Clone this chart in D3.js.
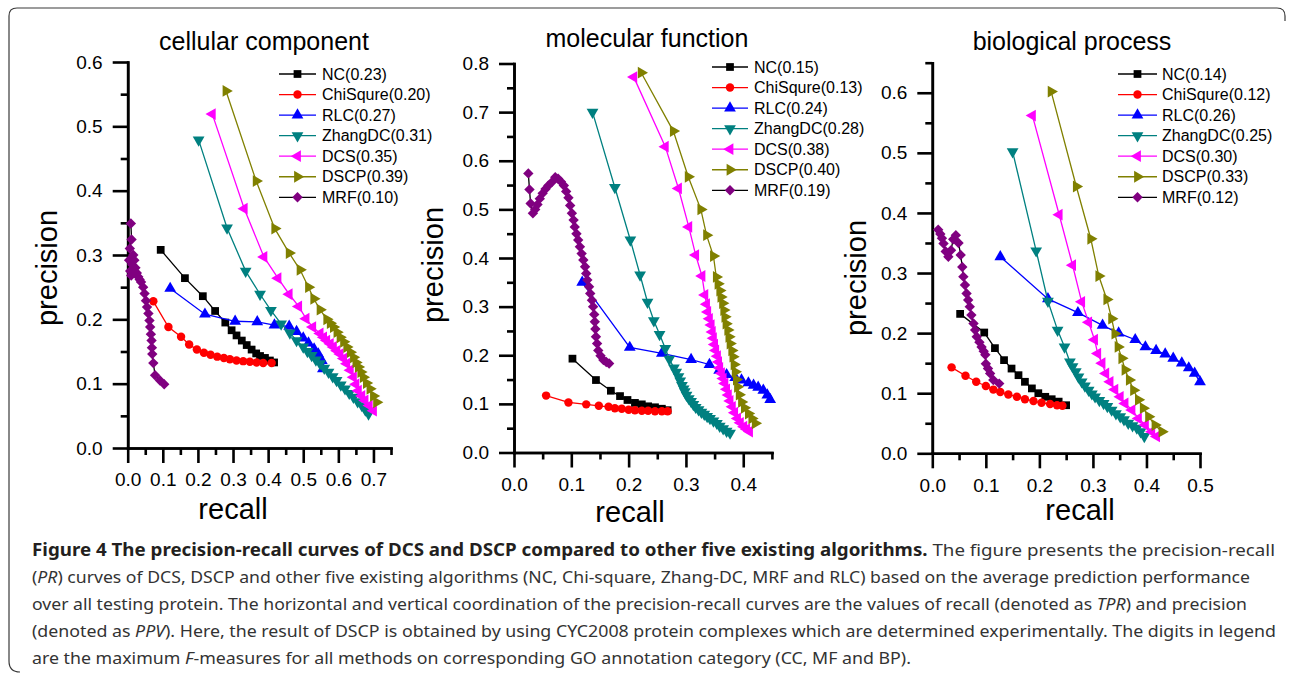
<!DOCTYPE html>
<html>
<head>
<meta charset="utf-8">
<script src="https://cdn.jsdelivr.net/npm/d3@7"></script>
<style>
body { margin: 0; background: #fff; }
</style>
</head>
<body>
<svg id="fig" width="1290" height="679"></svg>
<script>
// ---- data: [recall, precision] ----
const methods = ["NC", "ChiSqure", "RLC", "ZhangDC", "DCS", "DSCP", "MRF"];
const ccFmax = ["0.23", "0.20", "0.27", "0.31", "0.35", "0.39", "0.10"];
const mfFmax = ["0.15", "0.13", "0.24", "0.28", "0.38", "0.40", "0.19"];
const bpFmax = ["0.14", "0.12", "0.26", "0.25", "0.30", "0.33", "0.12"];

// cellular component
const ccNC = [[0.094,0.308],[0.163,0.264],[0.214,0.236],[0.249,0.213],[0.278,0.195],[0.296,0.183],[0.310,0.175],[0.325,0.167],[0.339,0.160],[0.353,0.153],[0.366,0.147],[0.377,0.143],[0.391,0.140],[0.405,0.136],[0.417,0.133]];
const ccChi = [[0.073,0.228],[0.116,0.188],[0.152,0.173],[0.175,0.161],[0.197,0.153],[0.217,0.148],[0.236,0.145],[0.255,0.142],[0.274,0.140],[0.291,0.138],[0.310,0.136],[0.329,0.135],[0.348,0.134],[0.367,0.133],[0.386,0.132],[0.410,0.132]];
const ccRLC = [[0.121,0.248],[0.220,0.208],[0.306,0.197],[0.369,0.196],[0.418,0.191],[0.460,0.189],[0.481,0.181],[0.500,0.171],[0.515,0.163],[0.531,0.154],[0.543,0.146],[0.553,0.136],[0.556,0.123]];
const ccZhang = [[0.202,0.479],[0.283,0.342],[0.336,0.275],[0.377,0.239],[0.408,0.214],[0.437,0.193],[0.462,0.179],[0.481,0.167],[0.500,0.157],[0.512,0.150],[0.524,0.144],[0.536,0.137],[0.548,0.131],[0.560,0.124],[0.572,0.118],[0.584,0.111],[0.595,0.105],[0.607,0.098],[0.619,0.092],[0.631,0.085],[0.643,0.079],[0.655,0.072],[0.667,0.066],[0.677,0.059],[0.686,0.053]];
const ccDCS = [[0.241,0.519],[0.332,0.372],[0.388,0.297],[0.428,0.264],[0.460,0.239],[0.487,0.220],[0.508,0.201],[0.527,0.188],[0.548,0.178],[0.558,0.172],[0.567,0.167],[0.577,0.162],[0.586,0.157],[0.596,0.151],[0.605,0.146],[0.615,0.139],[0.624,0.131],[0.634,0.121],[0.643,0.110],[0.650,0.099],[0.657,0.089],[0.667,0.081],[0.676,0.074],[0.688,0.066],[0.700,0.058]];
const ccDSCP = [[0.280,0.555],[0.366,0.415],[0.419,0.341],[0.460,0.303],[0.491,0.277],[0.515,0.250],[0.530,0.232],[0.548,0.215],[0.567,0.200],[0.577,0.194],[0.586,0.188],[0.596,0.180],[0.605,0.172],[0.615,0.165],[0.624,0.157],[0.634,0.149],[0.643,0.141],[0.650,0.133],[0.657,0.126],[0.664,0.118],[0.671,0.110],[0.680,0.101],[0.690,0.092],[0.700,0.081],[0.709,0.071]];
const ccMRF = [[0.009,0.349],[0.011,0.324],[0.006,0.310],[0.004,0.292],[0.007,0.275],[0.010,0.268],[0.013,0.285],[0.016,0.300],[0.019,0.292],[0.022,0.280],[0.026,0.272],[0.030,0.266],[0.034,0.262],[0.038,0.258],[0.044,0.250],[0.048,0.240],[0.052,0.229],[0.055,0.219],[0.059,0.209],[0.062,0.198],[0.064,0.188],[0.066,0.177],[0.068,0.167],[0.069,0.156],[0.070,0.146],[0.073,0.132],[0.078,0.113],[0.092,0.105],[0.104,0.099]];

// molecular function
const mfNC = [[0.102,0.193],[0.143,0.149],[0.169,0.127],[0.185,0.116],[0.198,0.108],[0.211,0.102],[0.223,0.099],[0.234,0.095],[0.246,0.093],[0.258,0.090],[0.268,0.087]];
const mfChi = [[0.056,0.117],[0.095,0.103],[0.126,0.099],[0.148,0.096],[0.165,0.094],[0.176,0.091],[0.188,0.090],[0.200,0.088],[0.211,0.087],[0.223,0.086],[0.234,0.086],[0.246,0.085],[0.258,0.085],[0.268,0.085]];
const mfRLC = [[0.119,0.350],[0.202,0.216],[0.258,0.204],[0.309,0.191],[0.341,0.181],[0.358,0.169],[0.371,0.160],[0.386,0.154],[0.397,0.149],[0.409,0.143],[0.418,0.138],[0.426,0.134],[0.435,0.128],[0.442,0.118],[0.447,0.109]];
const mfZhang = [[0.137,0.700],[0.176,0.545],[0.203,0.437],[0.220,0.365],[0.233,0.309],[0.244,0.271],[0.254,0.243],[0.264,0.214],[0.271,0.192],[0.279,0.174],[0.283,0.165],[0.287,0.156],[0.290,0.147],[0.293,0.138],[0.296,0.131],[0.298,0.125],[0.301,0.118],[0.305,0.111],[0.309,0.105],[0.313,0.099],[0.317,0.093],[0.322,0.088],[0.327,0.083],[0.332,0.079],[0.337,0.074],[0.342,0.070],[0.348,0.065],[0.354,0.060],[0.359,0.054],[0.365,0.049],[0.371,0.044],[0.377,0.040]];
const mfDCS = [[0.209,0.772],[0.264,0.629],[0.287,0.543],[0.305,0.464],[0.317,0.406],[0.328,0.363],[0.333,0.324],[0.336,0.305],[0.338,0.289],[0.341,0.275],[0.344,0.262],[0.346,0.248],[0.348,0.235],[0.350,0.222],[0.352,0.210],[0.355,0.198],[0.357,0.186],[0.359,0.174],[0.362,0.163],[0.365,0.152],[0.368,0.142],[0.371,0.130],[0.374,0.118],[0.377,0.106],[0.381,0.094],[0.385,0.082],[0.390,0.070],[0.395,0.061],[0.401,0.053],[0.406,0.048],[0.411,0.043]];
const mfDSCP = [[0.222,0.781],[0.278,0.661],[0.304,0.567],[0.326,0.500],[0.336,0.447],[0.348,0.404],[0.353,0.361],[0.356,0.347],[0.359,0.333],[0.361,0.320],[0.364,0.307],[0.366,0.293],[0.368,0.279],[0.370,0.265],[0.373,0.252],[0.375,0.238],[0.377,0.224],[0.380,0.210],[0.382,0.197],[0.384,0.181],[0.386,0.166],[0.388,0.150],[0.390,0.135],[0.393,0.119],[0.397,0.104],[0.402,0.092],[0.409,0.080],[0.415,0.070],[0.421,0.060]];
const mfMRF = [[0.025,0.574],[0.027,0.541],[0.029,0.512],[0.033,0.492],[0.037,0.500],[0.041,0.510],[0.045,0.522],[0.050,0.533],[0.055,0.542],[0.060,0.549],[0.066,0.556],[0.072,0.566],[0.077,0.563],[0.082,0.557],[0.087,0.549],[0.091,0.537],[0.095,0.524],[0.098,0.508],[0.101,0.492],[0.104,0.478],[0.106,0.464],[0.109,0.450],[0.112,0.437],[0.115,0.423],[0.118,0.409],[0.121,0.396],[0.124,0.382],[0.126,0.368],[0.128,0.355],[0.131,0.341],[0.133,0.327],[0.136,0.313],[0.138,0.300],[0.140,0.284],[0.141,0.269],[0.142,0.254],[0.143,0.238],[0.145,0.224],[0.147,0.210],[0.151,0.199],[0.156,0.190],[0.161,0.186],[0.166,0.183]];

// biological process
const bpNC = [[0.052,0.232],[0.097,0.201],[0.117,0.175],[0.134,0.155],[0.148,0.141],[0.161,0.130],[0.173,0.119],[0.186,0.108],[0.198,0.100],[0.211,0.094],[0.223,0.090],[0.236,0.086],[0.250,0.080]];
const bpChi = [[0.036,0.143],[0.062,0.129],[0.082,0.119],[0.100,0.112],[0.114,0.106],[0.127,0.102],[0.142,0.098],[0.158,0.094],[0.173,0.090],[0.189,0.087],[0.204,0.084],[0.220,0.082],[0.233,0.080],[0.243,0.079]];
const bpRLC = [[0.127,0.327],[0.216,0.257],[0.272,0.234],[0.318,0.213],[0.348,0.200],[0.379,0.189],[0.398,0.177],[0.418,0.171],[0.435,0.165],[0.450,0.158],[0.466,0.150],[0.479,0.142],[0.490,0.133],[0.500,0.119]];
const bpZhang = [[0.150,0.502],[0.194,0.337],[0.216,0.253],[0.234,0.205],[0.247,0.177],[0.257,0.152],[0.262,0.144],[0.268,0.136],[0.273,0.127],[0.279,0.119],[0.285,0.112],[0.292,0.105],[0.298,0.099],[0.304,0.094],[0.312,0.088],[0.320,0.083],[0.327,0.078],[0.335,0.072],[0.343,0.066],[0.351,0.061],[0.358,0.056],[0.366,0.050],[0.374,0.046],[0.382,0.042],[0.389,0.036],[0.396,0.028]];
const bpDCS = [[0.187,0.562],[0.237,0.397],[0.262,0.313],[0.279,0.252],[0.292,0.218],[0.303,0.189],[0.309,0.166],[0.317,0.150],[0.324,0.133],[0.332,0.119],[0.341,0.106],[0.351,0.094],[0.360,0.083],[0.373,0.072],[0.385,0.058],[0.398,0.047],[0.410,0.036],[0.419,0.028]];
const bpDSCP = [[0.222,0.602],[0.269,0.444],[0.296,0.357],[0.311,0.295],[0.326,0.256],[0.335,0.224],[0.341,0.199],[0.347,0.177],[0.354,0.158],[0.360,0.139],[0.368,0.122],[0.376,0.105],[0.385,0.089],[0.394,0.075],[0.404,0.061],[0.416,0.047],[0.429,0.036]];
const bpMRF = [[0.011,0.372],[0.015,0.365],[0.018,0.358],[0.021,0.349],[0.025,0.336],[0.030,0.327],[0.035,0.338],[0.039,0.356],[0.044,0.363],[0.049,0.350],[0.053,0.330],[0.056,0.310],[0.058,0.294],[0.061,0.280],[0.064,0.266],[0.067,0.255],[0.070,0.244],[0.073,0.230],[0.077,0.216],[0.080,0.205],[0.083,0.194],[0.088,0.185],[0.092,0.177],[0.096,0.170],[0.099,0.164],[0.100,0.149],[0.104,0.141],[0.108,0.133],[0.114,0.122],[0.125,0.116]];

const panelTitles = ["cellular component", "molecular function", "biological process"];

// caption text, segments: b = bold, n = normal, i = italic
const captionLines = [
  [["Figure 4 The precision-recall curves of DCS and DSCP compared to other five existing algorithms.", "b"], [" The figure presents the precision-recall", "n"]],
  [["(", "n"], ["PR", "i"], [") curves of DCS, DSCP and other five existing algorithms (NC, Chi-square, Zhang-DC, MRF and RLC) based on the average prediction performance", "n"]],
  [["over all testing protein. The horizontal and vertical coordination of the precision-recall curves are the values of recall (denoted as ", "n"], ["TPR", "i"], [") and precision", "n"]],
  [["(denoted as ", "n"], ["PPV", "i"], ["). Here, the result of DSCP is obtained by using CYC2008 protein complexes which are determined experimentally. The digits in legend", "n"]],
  [["are the maximum ", "n"], ["F", "i"], ["-measures for all methods on corresponding GO annotation category (CC, MF and BP).", "n"]]
];

// ---- styles ----
const markerFill = ["#000000", "#ff0000", "#0000ff", "#008080", "#ff00ff", "#808000", "#800080"];
const lineStroke = ["#000000", "#ff0000", "#0000ff", "#008080", "#ff00ff", "#808000", "#000000"];
const shapes = [
  { type: d3.symbolSquare, rot: 0, size: 60 },
  { type: d3.symbolCircle, rot: 0, size: 56 },
  { type: d3.symbolTriangle, rot: 0, size: 60 },
  { type: d3.symbolTriangle, rot: 180, size: 60 },
  { type: d3.symbolTriangle, rot: -90, size: 60 },
  { type: d3.symbolTriangle, rot: 90, size: 60 },
  { type: d3.symbolSquare, rot: 45, size: 54 }
];
const FONT = "'Liberation Sans', Arial, sans-serif";

const svg = d3.select("#fig");
svg.append("rect").attr("width", 1290).attr("height", 679).attr("fill", "#fff");

// frame around the figure
svg.append("path")
  .attr("d", "M 20 672 Q 9 672 9 661 L 9 16 Q 9 8 17 8 L 1277 8 Q 1285 8 1285 16 L 1285 21")
  .attr("fill", "none")
  .attr("stroke", "#3a3a3a")
  .attr("stroke-width", 1.2);

const panels = [
  { title: panelTitles[0], series: [ccNC, ccChi, ccRLC, ccZhang, ccDCS, ccDSCP, ccMRF], fmax: ccFmax,
    xMax: 0.75, yMax: 0.6, xr: [127.7, 391], yr: [448, 62],
    titleX: 264, titleY: 50, yLab: [47, 268], xLab: [233, 519],
    leg: { x1: 279, x2: 316, tx: 322, y0: 74 } },
  { title: panelTitles[1], series: [mfNC, mfChi, mfRLC, mfZhang, mfDCS, mfDSCP, mfMRF], fmax: mfFmax,
    xMax: 0.45, yMax: 0.8, xr: [514, 771.9], yr: [452.5, 63.5],
    titleX: 647, titleY: 47, yLab: [433, 265], xLab: [630, 522],
    leg: { x1: 712, x2: 748, tx: 754, y0: 67 } },
  { title: panelTitles[2], series: [bpNC, bpChi, bpRLC, bpZhang, bpDCS, bpDSCP, bpMRF], fmax: bpFmax,
    xMax: 0.5, yMax: 0.65, xr: [932.3, 1200], yr: [453.3, 62.7],
    titleX: 1072, titleY: 50, yLab: [856, 278], xLab: [1080, 520],
    leg: { x1: 1118, x2: 1157, tx: 1162, y0: 74 } }
];

function symbolPath(k) {
  return d3.symbol().type(shapes[k].type).size(shapes[k].size)();
}

function styleAxis(g) {
  g.select(".domain").attr("stroke", "#000").attr("stroke-width", 2.6).attr("stroke-linecap", "square");
  g.selectAll(".tick line").attr("stroke", "#000").attr("stroke-width", 2.6);
  g.selectAll(".tick text").attr("font-family", FONT).attr("font-size", "19px").attr("fill", "#000");
}

function drawPanel(p) {
  const x = d3.scaleLinear().domain([0, p.xMax]).range(p.xr);
  const y = d3.scaleLinear().domain([0, p.yMax]).range(p.yr);
  const g = svg.append("g");
  const eps = 1e-9;
  const xMajor = d3.range(0, p.xMax + eps, 0.1);
  const xMinor = d3.range(0.05, p.xMax + eps, 0.1);
  const yMajor = d3.range(0, p.yMax + eps, 0.1);
  const yMinor = d3.range(0.05, p.yMax + eps, 0.1);

  // minor ticks
  g.append("g").attr("transform", `translate(0,${p.yr[0]})`)
    .call(d3.axisBottom(x).tickValues(xMinor).tickSize(7).tickSizeOuter(0).tickFormat(""))
    .call(styleAxis);
  g.append("g").attr("transform", `translate(${p.xr[0]},0)`)
    .call(d3.axisLeft(y).tickValues(yMinor).tickSize(7).tickSizeOuter(0).tickFormat(""))
    .call(styleAxis);
  // major ticks with labels
  g.append("g").attr("transform", `translate(0,${p.yr[0]})`)
    .call(d3.axisBottom(x).tickValues(xMajor).tickSize(15).tickSizeOuter(0).tickPadding(10).tickFormat(d3.format(".1f")))
    .call(styleAxis);
  g.append("g").attr("transform", `translate(${p.xr[0]},0)`)
    .call(d3.axisLeft(y).tickValues(yMajor).tickSize(15).tickSizeOuter(0).tickPadding(10).tickFormat(d3.format(".1f")))
    .call(styleAxis);

  // title and axis labels
  g.append("text").attr("x", p.titleX).attr("y", p.titleY)
    .attr("text-anchor", "middle").attr("font-family", FONT).attr("font-size", "25px")
    .text(p.title);
  g.append("text").attr("x", p.xLab[0]).attr("y", p.xLab[1])
    .attr("text-anchor", "middle").attr("font-family", FONT).attr("font-size", "29px")
    .text("recall");
  g.append("text")
    .attr("transform", `translate(${p.yLab[0]},${p.yLab[1]}) rotate(-90)`)
    .attr("text-anchor", "middle").attr("dominant-baseline", "central")
    .attr("font-family", FONT).attr("font-size", "29px")
    .text("precision");

  // series
  const line = d3.line().x(d => x(d[0])).y(d => y(d[1]));
  p.series.forEach((data, k) => {
    const s = g.append("g");
    s.append("path").attr("d", line(data))
      .attr("fill", "none").attr("stroke", lineStroke[k]).attr("stroke-width", 1.3);
    s.selectAll("path.m").data(data).enter().append("path")
      .attr("class", "m")
      .attr("d", symbolPath(k))
      .attr("transform", d => `translate(${x(d[0])},${y(d[1])}) rotate(${shapes[k].rot})`)
      .attr("fill", markerFill[k]);
  });

  // legend
  const rowStep = 20.55;
  methods.forEach((m, k) => {
    const ry = p.leg.y0 + k * rowStep;
    g.append("line").attr("x1", p.leg.x1).attr("x2", p.leg.x2).attr("y1", ry).attr("y2", ry)
      .attr("stroke", lineStroke[k]).attr("stroke-width", 1.3);
    g.append("path").attr("d", symbolPath(k))
      .attr("transform", `translate(${(p.leg.x1 + p.leg.x2) / 2},${ry}) rotate(${shapes[k].rot})`)
      .attr("fill", markerFill[k]);
    g.append("text").attr("x", p.leg.tx).attr("y", ry)
      .attr("dominant-baseline", "central")
      .attr("font-family", FONT).attr("font-size", "16px")
      .text(m + "(" + p.fmax[k] + ")");
  });
}

panels.forEach(drawPanel);

// caption: each line squeezed to the width it has in the figure
const capX = 32, capY0 = 556, capStep = 27;
const capEnds = [1275, 1250, 1247, 1276, 0];
const capNodes = captionLines.map((segs, i) => {
  const t = svg.append("text").attr("x", capX).attr("y", capY0 + i * capStep)
    .attr("font-family", "'Noto Sans', 'Open Sans', sans-serif").attr("font-size", "17px").attr("fill", "#333");
  segs.forEach(s => {
    const ts = t.append("tspan").text(s[0]);
    if (s[1] === "b") ts.attr("font-weight", "bold").attr("fill", "#231f20");
    if (s[1] === "i") ts.attr("font-style", "italic");
  });
  return t;
});
const lens = capNodes.map(t => t.node().getComputedTextLength());
const kRef = (capEnds[3] - capX) / lens[3];
capNodes.forEach((t, i) => {
  const target = capEnds[i] ? capEnds[i] - capX : lens[i] * kRef;
  t.attr("textLength", target).attr("lengthAdjust", "spacingAndGlyphs");
});
</script>
</body>
</html>
